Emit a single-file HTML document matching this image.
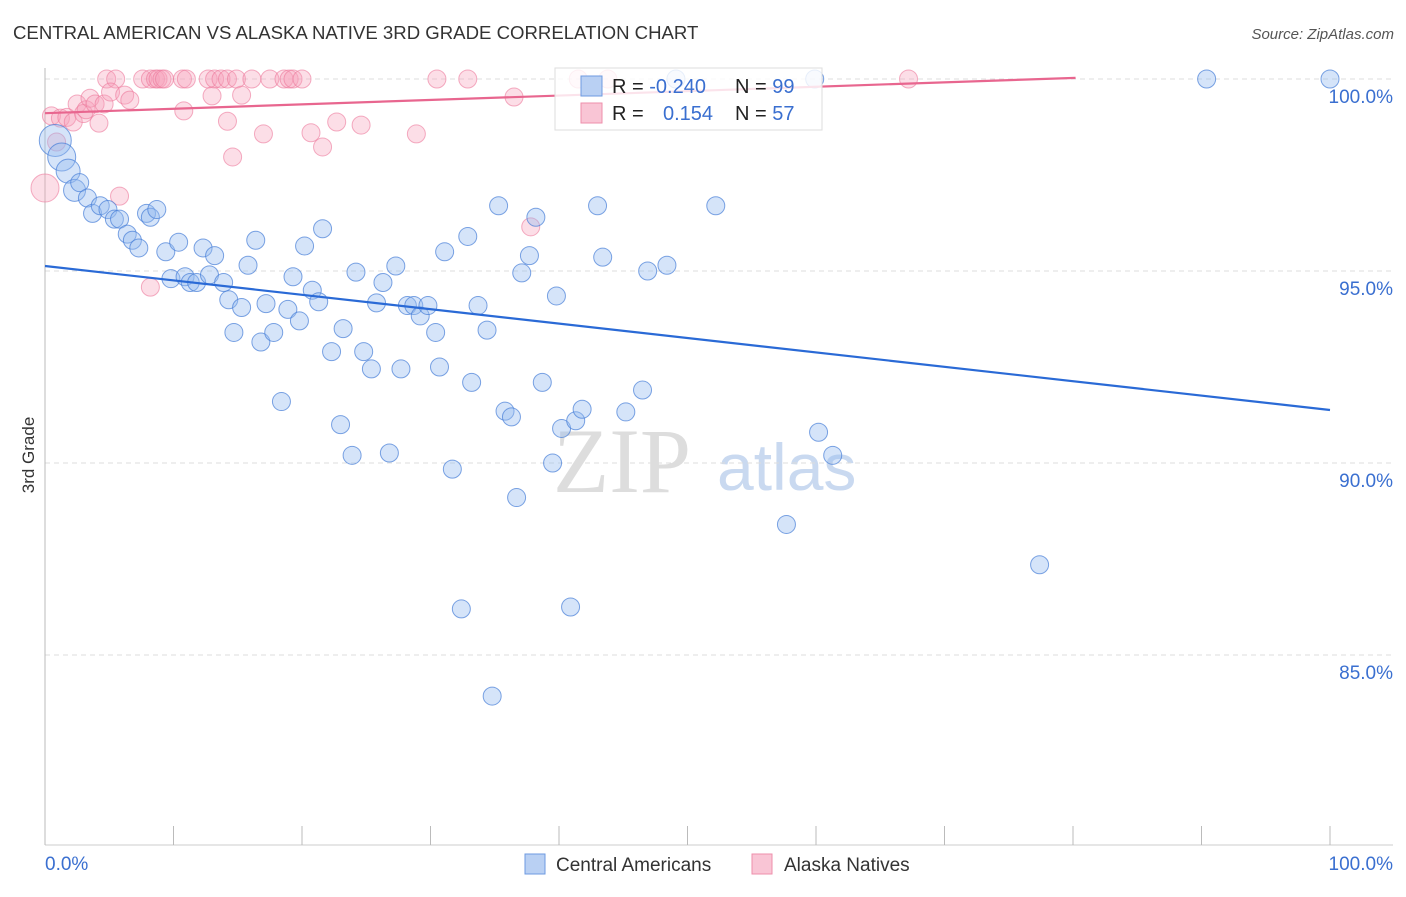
<!DOCTYPE html>
<html><head><meta charset="utf-8"><style>
body{margin:0;background:#fff;font-family:"Liberation Sans",sans-serif}
</style></head><body>
<svg id="chart" width="1406" height="892" xmlns="http://www.w3.org/2000/svg" font-family="Liberation Sans, sans-serif">
<text x="13" y="39" font-size="18.6" fill="#333">CENTRAL AMERICAN VS ALASKA NATIVE 3RD GRADE CORRELATION CHART</text>
<text x="1394" y="39" font-size="15" fill="#555" text-anchor="end" font-style="italic">Source: ZipAtlas.com</text>
<g>
<text x="553" y="492" font-size="92" font-family="Liberation Serif, serif" fill="#ddd">ZIP</text>
<text x="717" y="490" font-size="66" fill="#c9d9f0">atlas</text>
</g>
<g id="grid"></g>
<g id="pts"></g>
<g id="lines"></g>
<text transform="translate(34,455) rotate(-90)" font-size="17" fill="#333" text-anchor="middle">3rd Grade</text>
<g>
<rect x="555" y="68" width="267" height="62" fill="rgba(255,255,255,0.82)" stroke="#ddd"/>
<rect x="581" y="76" width="21" height="20" fill="#b9d0f3" stroke="#6d9ae0"/>
<rect x="581" y="103" width="21" height="20" fill="#f9c5d5" stroke="#ee8fab"/>
<text x="612" y="93" font-size="20" fill="#222">R = <tspan fill="#3a6fd0">-0.240</tspan></text>
<text x="735" y="93" font-size="20" fill="#222">N = <tspan fill="#3a6fd0">99</tspan></text>
<text x="612" y="120" font-size="20" fill="#222">R = </text>
<text x="663" y="120" font-size="20" fill="#3a6fd0">0.154</text>
<text x="735" y="120" font-size="20" fill="#222">N = <tspan fill="#3a6fd0">57</tspan></text>
</g>
<g>
<rect x="525" y="854" width="20" height="20" fill="#b9d0f3" stroke="#6d9ae0"/>
<text x="556" y="871" font-size="19" fill="#333">Central Americans</text>
<rect x="752" y="854" width="20" height="20" fill="#f9c5d5" stroke="#ee8fab"/>
<text x="784" y="871" font-size="19" fill="#333">Alaska Natives</text>
</g>
</svg>
<script>
const yTicks=[100,95,90,85];
const yTickLabels=["100.0%","95.0%","90.0%","85.0%"];
const xTickVals=[0,10,20,30,40,50,60,70,80,90,100];
const blueX=[0.8,1.3,1.8,2.3,2.7,3.3,3.7,4.3,4.9,5.4,5.8,6.4,6.8,7.3,7.9,8.2,8.7,9.4,9.8,10.4,10.9,11.3,11.8,12.3,12.8,13.2,13.9,14.3,14.7,15.3,15.8,16.4,16.8,17.2,17.8,18.4,18.9,19.3,19.8,20.2,20.8,21.3,21.6,22.3,23.0,23.2,23.9,24.2,24.8,25.4,25.8,26.3,26.8,27.3,27.7,28.2,28.7,29.2,29.8,30.4,30.7,31.1,31.7,32.4,32.9,33.2,33.7,34.4,34.8,35.3,35.8,36.3,36.7,37.1,37.7,38.2,38.7,39.5,39.8,40.2,40.9,41.3,41.8,43.0,43.4,45.2,46.5,46.9,48.4,52.2,57.7,60.2,61.3,77.4,90.4,100,59.9,49.1];
const blueY=[98.4,97.97,97.6,97.1,97.3,96.9,96.5,96.7,96.6,96.35,96.35,95.96,95.8,95.6,96.5,96.4,96.6,95.5,94.8,95.75,94.85,94.7,94.7,95.6,94.9,95.4,94.7,94.25,93.4,94.05,95.15,95.8,93.15,94.15,93.4,91.6,94.0,94.85,93.7,95.65,94.5,94.2,96.1,92.9,91.0,93.5,90.2,94.97,92.9,92.45,94.17,94.7,90.26,95.13,92.45,94.1,94.1,93.83,94.1,93.4,92.5,95.5,89.84,86.2,95.9,92.1,94.1,93.46,83.93,96.7,91.35,91.2,89.1,94.95,95.4,96.4,92.1,90.0,94.35,90.9,86.25,91.1,91.4,96.7,95.36,91.33,91.9,95.0,95.15,96.7,88.4,90.8,90.2,87.35,100,100,100,100];
const blueBig=[16,14,12,11];
const pinkX=[4.8,5.5,7.6,8.2,8.6,8.8,9.1,9.3,10.7,11.0,12.7,13.2,13.7,14.2,14.9,16.1,17.5,18.6,19.0,19.3,20.0,30.5,32.9,41.5,43.8,67.2,0.5,0.9,1.2,1.7,2.2,2.5,3.0,3.2,3.5,3.9,4.2,4.6,5.1,5.8,6.2,6.6,8.2,10.8,13.0,14.2,14.6,15.3,17.0,20.7,21.6,22.7,24.6,28.9,36.5,37.8,0];
const pinkY=[100,100,100,100,100,100,100,100,100,100,100,100,100,100,100,100,100,100,100,100,100,100,100,100,100,100,99.04,98.36,98.98,99.0,98.88,99.35,99.1,99.2,99.5,99.35,98.85,99.35,99.66,96.95,99.58,99.45,94.58,99.17,99.56,98.9,97.97,99.58,98.57,98.6,98.23,98.88,98.8,98.57,99.53,96.15,97.16];
const blueTrend=[[0,95.13],[100,91.38]];
const pinkTrend=[[0,99.11],[80.2,100.03]];
const NS="http://www.w3.org/2000/svg";
const X0=45,X1=1330,YTOP=79,PX_PER=38.4;
function sx(v){return X0+(X1-X0)*v/100;}
function sy(v){return YTOP+(100-v)*PX_PER;}
function mk(tag,attrs,parent){const e=document.createElementNS(NS,tag);for(const k in attrs)e.setAttribute(k,attrs[k]);parent.appendChild(e);return e;}
const grid=document.getElementById('grid');
yTicks.forEach((t,i)=>{
 const l=mk('line',{x1:X0,x2:1393,y1:sy(t),y2:sy(t),stroke:'#ddd','stroke-dasharray':'5,4'},grid);
 
 
 const tx=mk('text',{x:1393,y:sy(t)+24,'font-size':19,fill:'#3a6fd0','text-anchor':'end'},grid);
 tx.textContent=yTickLabels[i];
 
 
});
const ya=mk('line',{x1:X0,x2:X0,y1:68,y2:845,stroke:'#bbb'},grid);


const xa=mk('line',{x1:X0,x2:1393,y1:845,y2:845,stroke:'#ccc'},grid);


xTickVals.forEach(v=>{
 const t=mk('line',{x1:sx(v),x2:sx(v),y1:826,y2:845,stroke:'#bbb'},grid);
 
 
});
const xl0=mk('text',{x:45,y:870,'font-size':19,fill:'#3a6fd0'},grid);xl0.textContent='0.0%';


const xl1=mk('text',{x:1393,y:870,'font-size':19,fill:'#3a6fd0','text-anchor':'end'},grid);xl1.textContent='100.0%';


const pts=document.getElementById('pts');
pinkX.forEach((x,i)=>{
 const r=(i===pinkX.length-1)?14:9;
 const c=mk('circle',{cx:sx(x),cy:sy(pinkY[i]),r:r,fill:'rgba(246,160,187,0.35)',stroke:'rgba(236,120,155,0.6)','stroke-width':1},pts);
 
 
});
blueX.forEach((x,i)=>{
 const r=i<blueBig.length?blueBig[i]:9;
 const c=mk('circle',{cx:sx(x),cy:sy(blueY[i]),r:r,fill:'rgba(150,188,240,0.4)',stroke:'rgba(70,125,215,0.7)','stroke-width':1},pts);
 
 
});
const lines=document.getElementById('lines');
const bl=mk('line',{x1:sx(blueTrend[0][0]),y1:sy(blueTrend[0][1]),x2:sx(blueTrend[1][0]),y2:sy(blueTrend[1][1]),stroke:'#2a6ad6','stroke-width':2.2},lines);


const pl=mk('line',{x1:sx(pinkTrend[0][0]),y1:sy(pinkTrend[0][1]),x2:sx(pinkTrend[1][0]),y2:sy(pinkTrend[1][1]),stroke:'#e8668f','stroke-width':2.2},lines);


</script>
</body></html>
